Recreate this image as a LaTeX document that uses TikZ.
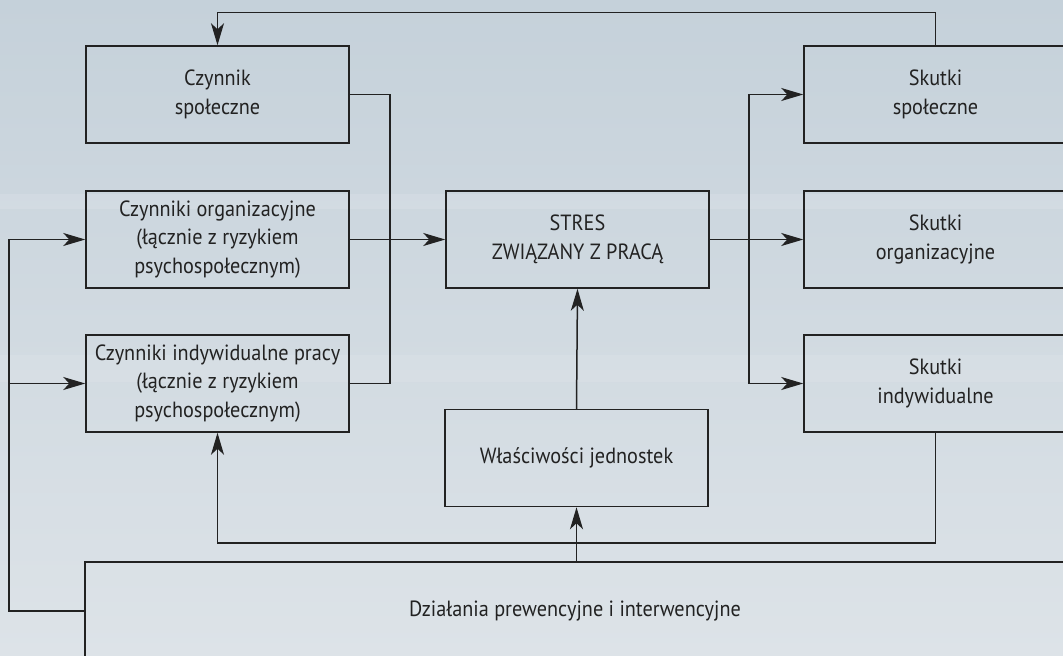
\documentclass[tikz,border=0pt]{standalone}
\usepackage{fontspec}
\setmainfont{PT Sans}[FakeStretch=0.92]
\usetikzlibrary{positioning,arrows.meta,calc}
\definecolor{tlo}{HTML}{C5D1DA}
\definecolor{tlodol}{HTML}{DDE3E8}
\definecolor{linia}{HTML}{222222}

\begin{document}
\begin{tikzpicture}[x=1pt,y=-1pt,
    every node/.style={font=\fontsize{22}{28.5}\selectfont,text=linia},
    blok/.style={draw=linia,line width=1.5pt,minimum width=263pt,minimum height=97pt,align=center,inner sep=0pt},
    strz/.style={draw=linia,line width=1.5pt,-{Stealth[length=22pt,width=13pt,inset=6pt]}},
    lin/.style={draw=linia,line width=1.5pt}]
  \useasboundingbox (0,0) rectangle (1063,656);
  \clip (0,0) rectangle (1063,656);
  \shade[top color=tlo,bottom color=tlodol] (0,0) rectangle (1063,656);
  % faint bands of the scan
  \fill[white,opacity=0.12] (0,194) rectangle (1063,209);
  \fill[white,opacity=0.10] (0,355) rectangle (1063,382);

  % factors
  \node[blok] (spol) at (217.5,94.5) {Czynnik\\społeczne};
  \node[blok] (org) at (217.5,239.5) {Czynniki organizacyjne\\(łącznie z ryzykiem\\psychospołecznym)};
  \node[blok] (ind) at (217.5,383.5) {Czynniki indywidualne pracy\\(łącznie z ryzykiem\\psychospołecznym)};
  % centre
  \node[blok] (stres) at (577.5,239.5) {STRES\\ZWIĄZANY Z PRACĄ};
  \node[blok] (wlasc) at (576.5,458) {Właściwości jednostek};
  % effects
  \node[blok] (sspol) at (935.5,94.5) {Skutki\\społeczne};
  \node[blok] (sorg) at (935.5,239.5) {Skutki\\organizacyjne};
  \node[blok] (sind) at (935.5,383.5) {Skutki\\indywidualne};
  % actions
  \node[blok,minimum width=980pt,minimum height=98pt] (dzial) at (575,611) {Działania prewencyjne i interwencyjne};

  \coordinate (busL) at (390,239.5);
  \coordinate (busR) at (749,239.5);
  \coordinate (lewo) at (9,611);
  \coordinate (dol) at (576,543);

  \draw[strz] (sspol.north) -- ++(0,-33) -| (spol.north);
  \draw[lin] (spol.east) -| (busL) |- (ind.east);
  \draw[strz] (org.east) -- (stres.west);
  \draw[strz] (stres.east) -- (sorg.west);
  \draw[strz] (busR) |- (sspol.west);
  \draw[strz] (busR) |- (sind.west);
  \draw[strz] (dzial.west) -- (lewo) |- (org.west);
  \draw[strz] (ind.west -| lewo) -- (ind.west);
  \draw[strz] (sind.south) |- (dol) -| (ind.south);
  \draw[strz] (wlasc.south |- dzial.north) -- (wlasc.south);
  \draw[strz] (wlasc.north) -- (stres.south);
\end{tikzpicture}
\end{document}
